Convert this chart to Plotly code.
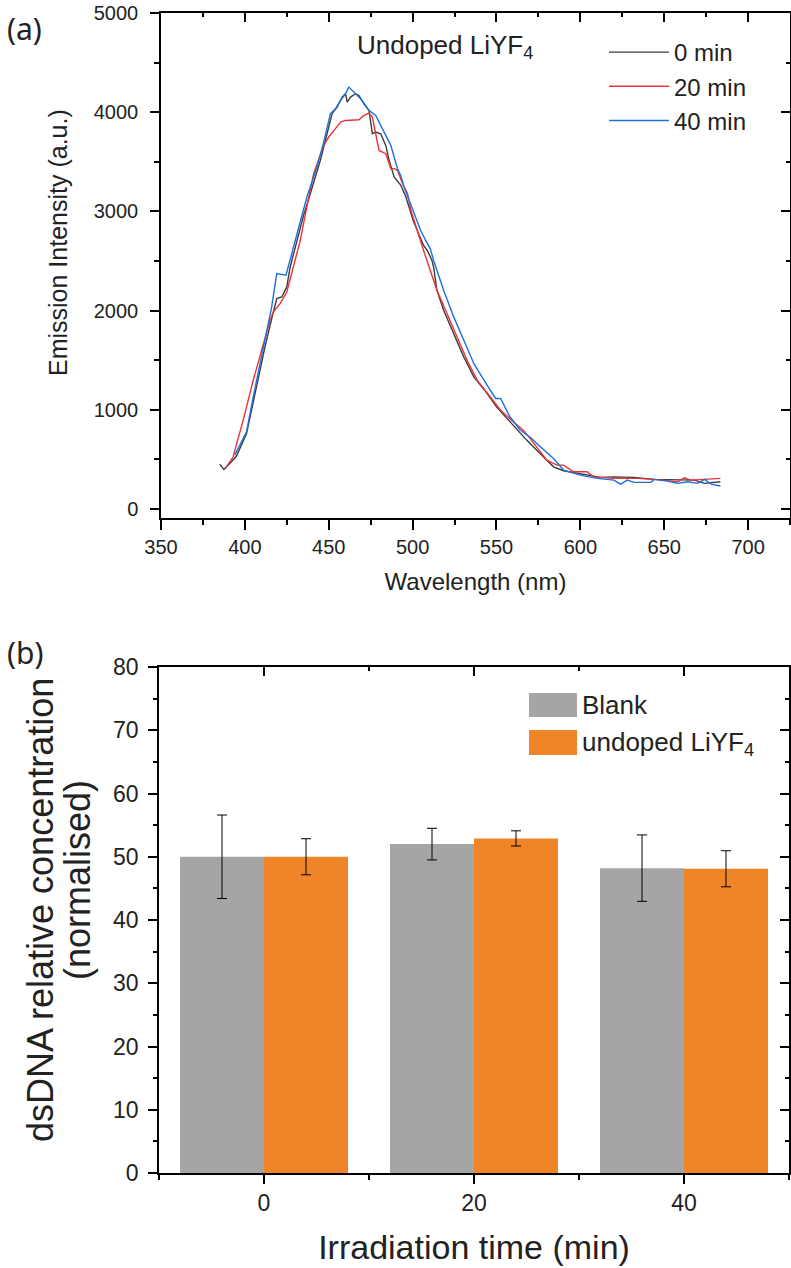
import plotly.graph_objects as go

W, H = 791, 1268

# ---------------- (a) emission spectra ----------------
wl_0 = [385, 387.5, 391, 395, 401, 407, 412, 417, 419, 422, 425, 427, 431, 435, 439, 445, 449, 452,
        455, 458, 460, 461, 463, 466, 468, 471, 474, 475, 476, 478, 481, 484, 486, 489, 493, 496,
        500.5, 503, 506.5, 509, 511.5, 512.5, 514.5, 518.5, 524.5, 530.5, 536.5, 543, 550, 558,
        563, 568, 576, 584, 590, 600, 612, 620, 632, 644, 658, 668, 674, 683.5]
int_0 = [453, 400, 460, 534, 762, 1232, 1634, 1987, 2122, 2138, 2239, 2440, 2709, 2960, 3179, 3515, 3783, 3985,
         4052, 4152, 4186, 4102, 4152, 4186, 4169, 4085, 4018, 3917, 3783, 3800, 3783, 3666, 3515, 3347, 3263, 3145,
         2900, 2800, 2660, 2600, 2508, 2440, 2205, 2004, 1769, 1534, 1332, 1198, 1030, 880,
         790, 695, 561, 426, 386, 359, 319, 325, 319, 299, 292, 292, 259, 275]

wl_20 = [389, 393, 399, 405, 410, 415, 417, 421, 425, 430, 433, 437, 441, 447, 450, 454, 457, 460, 464,
         468, 471, 474, 476, 478, 480, 484, 487, 489, 491, 494, 497, 499, 501.5, 504, 506.5, 508.5, 514.5,
         520.5, 526.5, 532.5, 538.5, 546.5, 552.5, 560, 566, 570, 580, 586, 590, 596, 604, 608, 620, 634,
         644, 658, 662, 666, 674, 683.5]
int_20 = [426, 527, 896, 1299, 1601, 1903, 1987, 2071, 2188, 2508, 2706, 3050, 3381, 3666, 3750, 3834, 3901, 3917, 3917,
          3924, 3968, 3991, 3951, 3783, 3615, 3582, 3431, 3431, 3414, 3280, 3179, 3011, 2870, 2742, 2608, 2508, 2205,
          1971, 1735, 1500, 1299, 1131, 997, 880, 795, 712, 493, 443, 443, 376, 376, 325, 309, 309,
          299, 275, 315, 292, 299, 309]

wl_40 = [394, 401, 405, 411, 416, 419, 424.5, 429, 437, 443, 447, 451, 454, 457, 460, 462, 465, 469, 474,
         478, 481, 484, 487, 491, 493, 495, 499, 502, 505, 508, 510.5, 512.5, 518.5, 524.5, 530.5, 536.5,
         542.5, 549.5, 552.5, 558, 564, 571, 574, 584, 590, 600, 610, 620, 624, 628, 632, 642, 644, 652,
         658, 664, 670, 674, 678, 683.5]
int_40 = [544, 778, 1131, 1634, 2037, 2374, 2357, 2641, 3145, 3447, 3699, 3985, 4035, 4119, 4186, 4253, 4203, 4136, 4018,
          3968, 3867, 3766, 3666, 3430, 3360, 3240, 3060, 2930, 2800, 2700, 2625, 2508, 2205, 1937, 1702, 1468,
          1299, 1115, 1115, 930, 800, 712, 661, 510, 393, 342, 309, 292, 252, 292, 269, 269, 299, 282,
          259, 275, 259, 299, 252, 232]

spectra_names = ["0 min", "20 min", "40 min"]
spectra_colors = ["#3C3C3C", "#EC3237", "#1F6FE0"]

# ---------------- (b) dsDNA bars ----------------
times = [0, 20, 40]
blank = [50.0, 52.0, 48.2]
blank_err = [6.6, 2.5, 5.25]
liyf = [50.0, 52.9, 48.1]
liyf_err = [2.85, 1.2, 2.85]
bar_colors = ["#A5A5A5", "#EF8429"]
bar_names = ["Blank", "undoped LiYF<sub>4</sub>"]

FONT = "Liberation Sans, Arial, sans-serif"
TXT = "#222222"

def px_x(p):
    return p / W

def px_y(p):
    return 1 - p / H

fig = go.Figure()

for wl, inten, nm, col in zip([wl_0, wl_20, wl_40], [int_0, int_20, int_40], spectra_names, spectra_colors):
    fig.add_trace(go.Scatter(x=wl, y=inten, mode="lines", name=nm,
                             line=dict(color=col, width=1.4), xaxis="x", yaxis="y"))

fig.add_trace(go.Bar(x=times, y=blank, offset=-8, width=8, name="Blank",
                     marker=dict(color=bar_colors[0], line=dict(width=0)),
                     error_y=dict(type="data", array=blank_err, color="black", thickness=1, width=5),
                     xaxis="x2", yaxis="y2", showlegend=False))
fig.add_trace(go.Bar(x=times, y=liyf, offset=0, width=8, name="undoped LiYF4",
                     marker=dict(color=bar_colors[1], line=dict(width=0)),
                     error_y=dict(type="data", array=liyf_err, color="black", thickness=1, width=5),
                     xaxis="x2", yaxis="y2", showlegend=False))

# empty helper traces so that mirrored inner-tick axes are drawn
fig.add_trace(go.Scatter(x=[], y=[], xaxis="x3", yaxis="y3", showlegend=False, hoverinfo="skip"))
fig.add_trace(go.Scatter(x=[], y=[], xaxis="x4", yaxis="y4", showlegend=False, hoverinfo="skip"))

tickfont_a = dict(family=FONT, size=20, color=TXT)
tickfont_b = dict(family=FONT, size=23, color=TXT)

xr_a = [350, 725]
yr_a = [-90, 5000]
xr_b = [-10, 50]
yr_b = [0, 80]

common = dict(showgrid=False, zeroline=False, linecolor="black", linewidth=1.5,
              tickcolor="black", tickwidth=1.5, automargin=False)
inner = dict(showgrid=False, zeroline=False, tickcolor="black", tickwidth=1.5,
             ticks="inside", ticklen=9, showticklabels=False, showline=False, automargin=False)

fig.update_layout(
    width=W, height=H, margin=dict(l=0, r=0, t=0, b=0, pad=0, autoexpand=False),
    paper_bgcolor="white", plot_bgcolor="white",
    xaxis=dict(domain=[px_x(161), px_x(790)], anchor="y", range=xr_a, dtick=50, tick0=350,
               ticks="outside", ticklen=10, showline=True, mirror=True, tickfont=tickfont_a,
               minor=dict(ticks="outside", ticklen=5, dtick=25, tickcolor="black", tickwidth=1.5),
               title=dict(text="Wavelength (nm)", font=dict(family=FONT, size=24, color=TXT), standoff=16),
               **common),
    yaxis=dict(domain=[px_y(518), px_y(13)], anchor="x", range=yr_a, dtick=1000, tick0=0,
               ticks="outside", ticklen=9, showline=True, mirror=True, tickfont=tickfont_a,
               ticklabelstandoff=8,
               minor=dict(ticks="outside", ticklen=5, dtick=500, tickcolor="black", tickwidth=1.5),
               **common),
    xaxis3=dict(overlaying="x", side="top", anchor="y", range=xr_a, dtick=50, tick0=350,
                minor=dict(ticks="inside", ticklen=4, dtick=25, tickcolor="black", tickwidth=1.5),
                **inner),
    yaxis3=dict(overlaying="y", side="right", anchor="x", range=yr_a, dtick=1000, tick0=0,
                minor=dict(ticks="inside", ticklen=4, dtick=500, tickcolor="black", tickwidth=1.5),
                **inner),
    xaxis2=dict(domain=[px_x(159), px_x(789)], anchor="y2", range=xr_b, tickvals=times,
                ticks="outside", ticklen=9, showline=True, mirror=True, tickfont=tickfont_b,
                minor=dict(ticks="outside", ticklen=5, dtick=10, tick0=0, tickcolor="black", tickwidth=1.5),
                title=dict(text="Irradiation time (min)", font=dict(family=FONT, size=34, color=TXT), standoff=20),
                **common),
    yaxis2=dict(domain=[px_y(1173), px_y(667)], anchor="x2", range=yr_b, dtick=10, tick0=0,
                ticks="outside", ticklen=9, showline=True, mirror=True, tickfont=tickfont_b,
                ticklabelstandoff=5,
                minor=dict(ticks="outside", ticklen=4, dtick=5, tickcolor="black", tickwidth=1.5),
                **common),
    xaxis4=dict(overlaying="x2", side="top", anchor="y2", range=xr_b, tickvals=times,
                minor=dict(ticks="inside", ticklen=4, dtick=10, tick0=0, tickcolor="black", tickwidth=1.5),
                **inner),
    yaxis4=dict(overlaying="y2", side="right", anchor="x2", range=yr_b, dtick=10, tick0=0,
                minor=dict(ticks="inside", ticklen=4, dtick=5, tickcolor="black", tickwidth=1.5),
                **inner),
    legend=dict(x=px_x(604), y=px_y(30), xanchor="left", yanchor="top",
                font=dict(family=FONT, size=24, color=TXT), bgcolor="rgba(0,0,0,0)",
                itemwidth=60, tracegroupgap=0),
    showlegend=True,
)

annots = [
    dict(text="(a)", x=px_x(24), y=px_y(29), font=dict(family="Noto Sans, sans-serif", size=30, color=TXT)),
    dict(text="(b)", x=px_x(25), y=px_y(652), font=dict(family="Noto Sans, sans-serif", size=30, color=TXT)),
    dict(text="Undoped LiYF<sub>4</sub>", x=px_x(355), y=px_y(47), xanchor="left",
         font=dict(family=FONT, size=26, color=TXT)),
    dict(text="Emission Intensity (a.u.)", x=px_x(58), y=px_y(243), textangle=-90,
         font=dict(family=FONT, size=25, color=TXT)),
    dict(text="dsDNA relative concentration", x=px_x(40), y=px_y(910), textangle=-90,
         font=dict(family=FONT, size=36, color=TXT)),
    dict(text="(normalised)", x=px_x(77), y=px_y(880), textangle=-90,
         font=dict(family=FONT, size=36, color=TXT)),
    dict(text=bar_names[0], x=px_x(580), y=px_y(705), xanchor="left",
         font=dict(family=FONT, size=26, color=TXT)),
    dict(text=bar_names[1], x=px_x(580), y=px_y(743), xanchor="left",
         font=dict(family=FONT, size=26, color=TXT)),
]
for a in annots:
    a.setdefault("xanchor", "center")
    a.setdefault("yanchor", "middle")
    fig.add_annotation(xref="paper", yref="paper", showarrow=False, **a)

fig.add_shape(type="rect", xref="paper", yref="paper", x0=px_x(529), x1=px_x(577),
              y0=px_y(717), y1=px_y(693), fillcolor=bar_colors[0], line=dict(width=0))
fig.add_shape(type="rect", xref="paper", yref="paper", x0=px_x(529), x1=px_x(577),
              y0=px_y(755), y1=px_y(730), fillcolor=bar_colors[1], line=dict(width=0))

fig.write_html("out.html", config={"displayModeBar": False},
               post_script="document.body.style.margin='0';document.body.style.overflow='hidden';")
